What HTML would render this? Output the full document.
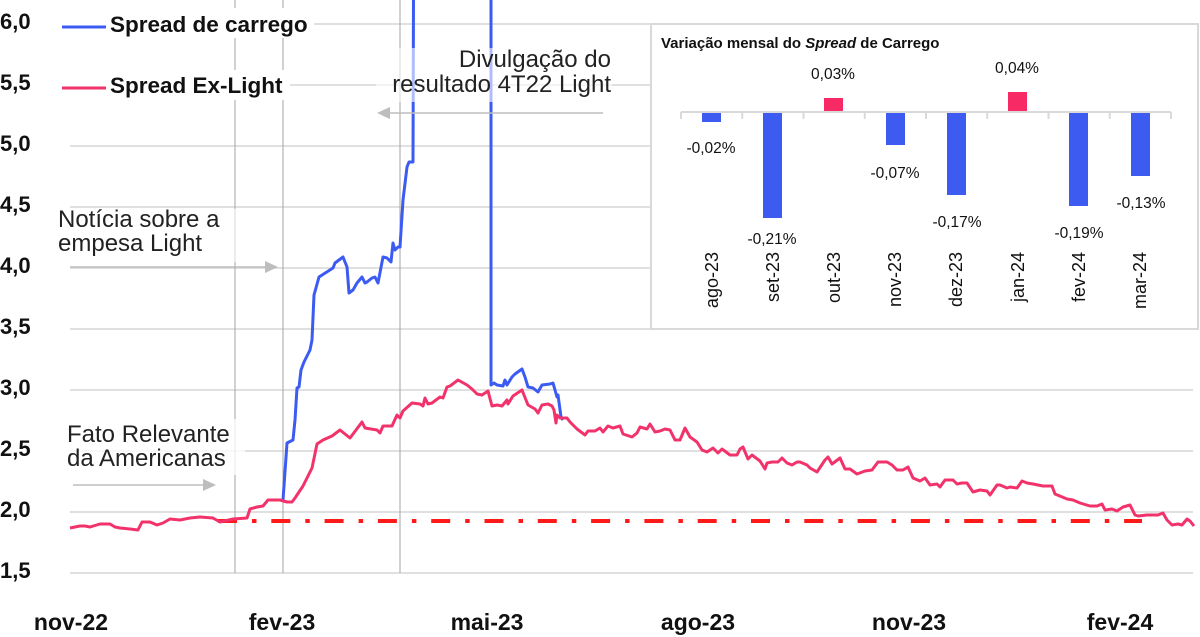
<!DOCTYPE html>
<html>
<head>
<meta charset="utf-8">
<style>
  html,body{margin:0;padding:0;background:#fff;}
  body{width:1200px;height:637px;overflow:hidden;}
  svg{display:block;}
  .yl{font-family:"Liberation Sans",sans-serif;font-weight:bold;font-size:22px;fill:#111;}
  .xl{font-family:"Liberation Sans",sans-serif;font-weight:bold;font-size:23px;fill:#111;}
  .lg{font-family:"Liberation Sans",sans-serif;font-weight:bold;font-size:22.5px;fill:#111;}
  .an{font-family:"Liberation Sans",sans-serif;font-size:24px;fill:#222;}
  .it{font-family:"Liberation Sans",sans-serif;font-weight:bold;font-size:15px;fill:#111;}
  .dl{font-family:"Liberation Sans",sans-serif;font-size:15.5px;fill:#111;}
  .cl{font-family:"Liberation Sans",sans-serif;font-size:18px;fill:#111;}
</style>
</head>
<body>
<svg width="1200" height="637" viewBox="0 0 1200 637" xmlns="http://www.w3.org/2000/svg">
  <rect x="0" y="0" width="1200" height="637" fill="#fff"/>

  <!-- gridlines -->
  <g stroke="#d6d6d6" stroke-width="1.5">
    <line x1="70" y1="24" x2="1193" y2="24"/>
    <line x1="70" y1="85" x2="1193" y2="85"/>
    <line x1="70" y1="146" x2="1193" y2="146"/>
    <line x1="70" y1="207" x2="1193" y2="207"/>
    <line x1="70" y1="268" x2="1193" y2="268"/>
    <line x1="70" y1="329" x2="1193" y2="329"/>
    <line x1="70" y1="390" x2="1193" y2="390"/>
    <line x1="70" y1="451" x2="1193" y2="451"/>
    <line x1="70" y1="512" x2="1193" y2="512"/>
    <line x1="70" y1="573" x2="1193" y2="573"/>
  </g>

  <!-- vertical event lines -->
  <g stroke="#a3a3a3" stroke-width="1">
    <line x1="235" y1="0" x2="235" y2="573"/>
    <line x1="283" y1="0" x2="283" y2="573"/>
    <line x1="400" y1="0" x2="400" y2="573"/>
  </g>

  <!-- y axis labels -->
  <text class="yl" x="0" y="29">6,0</text>
  <text class="yl" x="0" y="90">5,5</text>
  <text class="yl" x="0" y="151">5,0</text>
  <text class="yl" x="0" y="212">4,5</text>
  <text class="yl" x="0" y="273">4,0</text>
  <text class="yl" x="0" y="334">3,5</text>
  <text class="yl" x="0" y="395">3,0</text>
  <text class="yl" x="0" y="456">2,5</text>
  <text class="yl" x="0" y="517">2,0</text>
  <text class="yl" x="0" y="578">1,5</text>

  <!-- x axis labels -->
  <g text-anchor="middle">
    <text class="xl" x="71" y="630">nov-22</text>
    <text class="xl" x="282" y="630">fev-23</text>
    <text class="xl" x="487" y="630">mai-23</text>
    <text class="xl" x="698" y="630">ago-23</text>
    <text class="xl" x="909" y="630">nov-23</text>
    <text class="xl" x="1120" y="630">fev-24</text>
  </g>

  <!-- dash-dot red reference line -->
  <line x1="218" y1="521" x2="1142" y2="521" stroke="#ff1a1a" stroke-width="4" stroke-dasharray="19 15 4.5 14.8"/>

  <!-- blue series -->
  <g fill="none" stroke="#3b5bf2" stroke-width="3" stroke-linejoin="round">
    <polyline points="283,500 287,443 293,440 295,420 297,388 299,387 301,370 304,362 310,350 312,340 314,295 319,277 333,268 335,263 343,257 347,267 349,293 353,290 357,283 362,277 365,283 367,282 372,278 375,277 378,283 383,257 387,258 391,262 393,243 395,250 398,247 400,247 403,200 407,167 409,162 413,162 413.5,-5"/>
    <polyline points="491,-5 491,385 494,383 497,385 503,386 505,380 507,385 512,377 515,374 522,369 525,377 528,387 533,388 538,392 542,385 550,384 553,383 557,397 558,395 561,417 563,420"/>
  </g>

  <!-- pink series -->
  <polyline fill="none" stroke="#f2336b" stroke-width="3" stroke-linejoin="round"
    points="70,528 80,526 85,526 90,527 100,524 110,524 115,527 120,528 130,529 138,530 142,522 150,522 157,525 163,523 170,519 180,520 190,518 200,517 213,518 220,522 233,519 247,518 250,509 257,507 263,506 268,500 280,500 287,502 292,502 295,498 303,486 312,468 317,444 323,440 332,436 340,430 350,438 362,422 365,428 377,430 380,433 383,426 392,426 397,415 400,418 403,411 412,403 420,404 423,406 425,398 428,404 432,403 440,397 443,398 447,387 450,386 458,380 467,385 472,389 477,394 482,395 488,391 492,406 497,405 502,406 507,400 508,404 513,396 522,390 528,405 535,409 538,413 542,405 548,404 552,406 554,410 556,423 557,415 560,418 567,418 570,422 577,429 585,435 588,431 595,431 600,428 603,432 608,426 613,428 620,426 623,434 632,437 637,433 640,427 647,429 650,424 655,432 660,431 665,429 670,430 675,440 680,440 685,428 690,437 697,442 702,450 707,452 713,448 718,453 722,449 730,455 737,455 740,449 743,447 748,459 752,455 760,461 765,469 767,463 772,462 778,462 782,458 787,463 792,465 797,462 800,462 807,465 810,468 817,472 825,460 828,457 832,464 840,458 845,469 850,469 857,474 865,471 872,470 878,462 887,462 892,465 897,470 903,470 908,467 913,478 920,481 925,478 930,485 937,484 940,487 945,480 953,480 957,484 962,483 967,483 973,492 980,490 987,491 990,495 997,485 1000,485 1007,488 1010,487 1017,488 1022,481 1027,483 1033,484 1043,486 1052,486 1055,494 1067,499 1073,500 1080,503 1090,506 1097,506 1102,504 1105,510 1112,509 1117,511 1123,507 1130,505 1135,515 1138,516 1147,515 1153,515 1158,515 1163,513 1167,520 1172,525 1178,524 1182,525 1187,519 1190,521 1194,526"/>

  <!-- annotation boxes (semi-transparent) -->
  <rect x="376" y="48" width="236" height="54" fill="#fff" fill-opacity="0.6"/>
  <rect x="55" y="209" width="183" height="53" fill="#fff" fill-opacity="0.6"/>
  <rect x="62" y="419" width="183" height="56" fill="#fff" fill-opacity="0.75"/>

  <!-- annotations -->
  <text class="an" x="611" y="67" text-anchor="end">Divulgação do</text>
  <text class="an" x="611" y="92" text-anchor="end">resultado 4T22 Light</text>
  <text class="an" x="58" y="227">Notícia sobre a</text>
  <text class="an" x="58" y="251">empesa Light</text>
  <text class="an" x="67" y="442">Fato Relevante</text>
  <text class="an" x="67" y="466">da Americanas</text>

  <!-- arrows -->
  <g stroke="#bdbdbd" stroke-width="1.5">
    <line x1="390" y1="113" x2="603" y2="113"/>
    <line x1="70" y1="267" x2="266" y2="267"/>
    <line x1="73" y1="485" x2="204" y2="485"/>
  </g>
  <g fill="#bdbdbd">
    <polygon points="390,107 377,113 390,119"/>
    <polygon points="265,261 278,267 265,273"/>
    <polygon points="203,479 216,485 203,491"/>
  </g>

  <!-- legend -->
  <rect x="58" y="8" width="256" height="30" fill="#fff"/>
  <rect x="58" y="70" width="232" height="30" fill="#fff"/>
  <line x1="62" y1="27" x2="106" y2="27" stroke="#3b5bf2" stroke-width="3"/>
  <line x1="62" y1="88" x2="106" y2="88" stroke="#f2336b" stroke-width="3"/>
  <text class="lg" x="110" y="32">Spread de carrego</text>
  <text class="lg" x="110" y="93">Spread Ex-Light</text>

  <!-- inset chart -->
  <rect x="651" y="24" width="547" height="305" fill="#fff" stroke="#d9d9d9" stroke-width="2"/>
  <text class="it" x="661" y="48">Variação mensal do <tspan font-style="italic">Spread</tspan> de Carrego</text>

  <!-- bars -->
  <g fill="#3d5af1">
    <rect x="702" y="112" width="19" height="10"/>
    <rect x="763" y="112" width="19" height="106"/>
    <rect x="886" y="112" width="19" height="33"/>
    <rect x="947" y="112" width="19" height="83"/>
    <rect x="1069" y="112" width="19" height="94"/>
    <rect x="1131" y="112" width="19" height="64"/>
  </g>
  <g fill="#f72a66">
    <rect x="824" y="98" width="19" height="14"/>
    <rect x="1008" y="92" width="19" height="20"/>
  </g>

  <!-- axis + ticks -->
  <g stroke="#d9d9d9" stroke-width="2">
    <line x1="681" y1="112" x2="1171" y2="112"/>
    <line x1="681" y1="112" x2="681" y2="119"/>
    <line x1="742.25" y1="112" x2="742.25" y2="119"/>
    <line x1="803.5" y1="112" x2="803.5" y2="119"/>
    <line x1="864.75" y1="112" x2="864.75" y2="119"/>
    <line x1="926" y1="112" x2="926" y2="119"/>
    <line x1="987.25" y1="112" x2="987.25" y2="119"/>
    <line x1="1048.5" y1="112" x2="1048.5" y2="119"/>
    <line x1="1109.75" y1="112" x2="1109.75" y2="119"/>
    <line x1="1171" y1="112" x2="1171" y2="119"/>
  </g>

  <!-- data labels -->
  <g text-anchor="middle">
    <text class="dl" x="711" y="153">-0,02%</text>
    <text class="dl" x="772" y="244">-0,21%</text>
    <text class="dl" x="833" y="79">0,03%</text>
    <text class="dl" x="895" y="178">-0,07%</text>
    <text class="dl" x="957" y="227">-0,17%</text>
    <text class="dl" x="1017" y="73">0,04%</text>
    <text class="dl" x="1079" y="238">-0,19%</text>
    <text class="dl" x="1141" y="208">-0,13%</text>
  </g>

  <!-- category labels (rotated) -->
  <g text-anchor="end">
    <text class="cl" transform="translate(718,252) rotate(-90)">ago-23</text>
    <text class="cl" transform="translate(779,252) rotate(-90)">set-23</text>
    <text class="cl" transform="translate(840,252) rotate(-90)">out-23</text>
    <text class="cl" transform="translate(901,252) rotate(-90)">nov-23</text>
    <text class="cl" transform="translate(962,252) rotate(-90)">dez-23</text>
    <text class="cl" transform="translate(1024,252) rotate(-90)">jan-24</text>
    <text class="cl" transform="translate(1085,252) rotate(-90)">fev-24</text>
    <text class="cl" transform="translate(1146,252) rotate(-90)">mar-24</text>
  </g>
</svg>
</body>
</html>
